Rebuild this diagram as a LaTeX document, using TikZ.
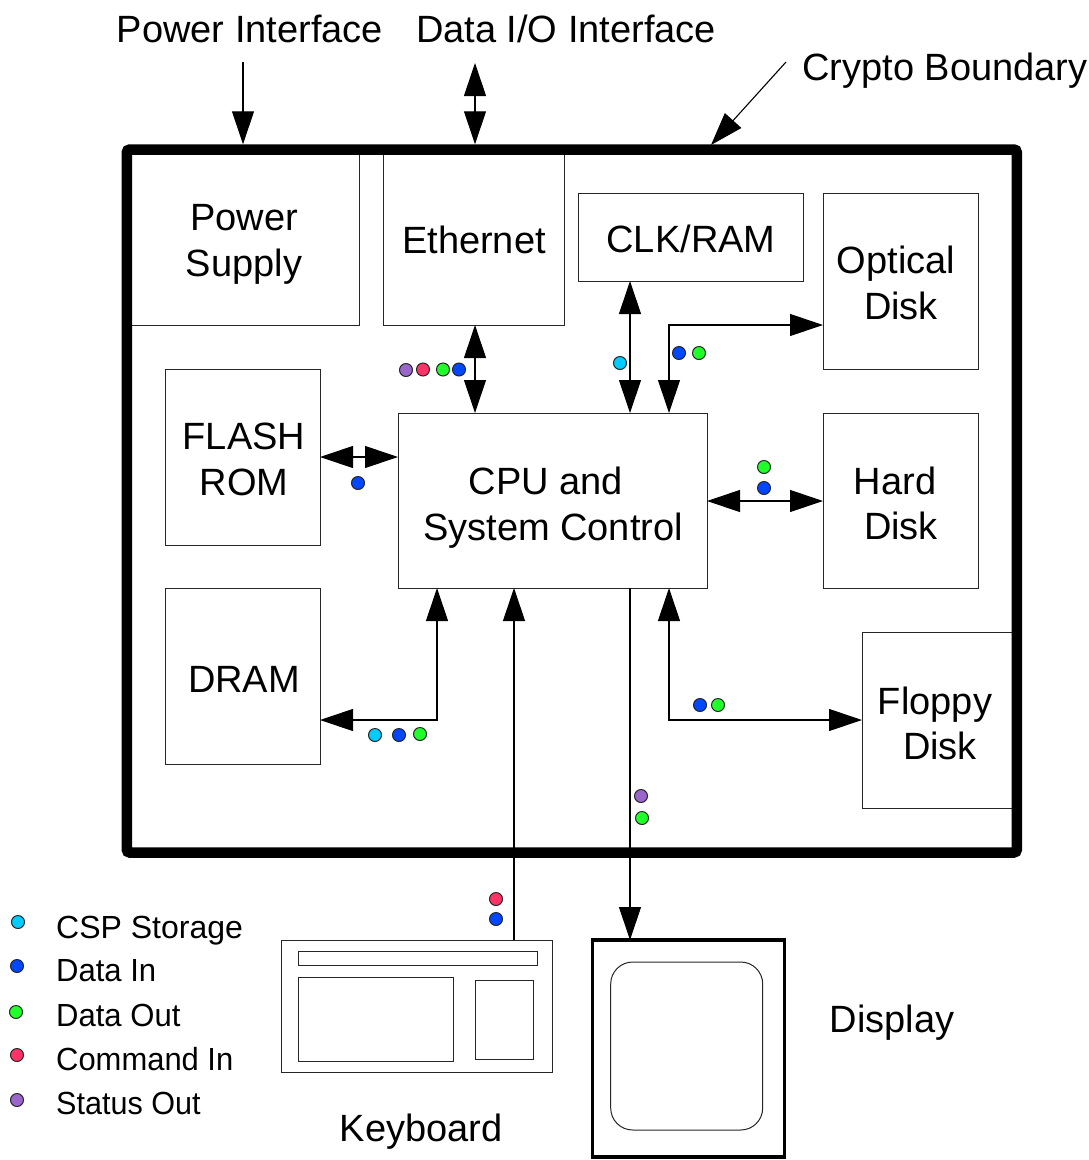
\documentclass[tikz,border=0pt]{standalone}
\usepackage{fontspec}
\setmainfont{Liberation Sans}
\usetikzlibrary{arrows.meta}
\definecolor{dcyan}{HTML}{00CCFF}
\definecolor{dblue}{HTML}{0047FF}
\definecolor{dgreen}{HTML}{1FFF2A}
\definecolor{dpink}{HTML}{FF3366}
\definecolor{dpurple}{HTML}{9966CC}
\tikzset{
  box/.style={draw=black!85,line width=1pt,inner sep=0pt,outer sep=0pt,fill=white},
  boundary/.style={draw=black,line width=10.5pt,rounded corners=3pt,inner sep=0pt},
  big/.style={inner sep=0pt,align=center,font=\fontsize{38}{46}\selectfont},
  legendtext/.style={inner sep=0pt,anchor=west,font=\fontsize{32}{38}\selectfont},
  dot/.style={circle,draw=black!85,line width=1pt,minimum size=13pt,inner sep=0pt},
  conn/.style={line width=1.1pt,draw=black},
  one/.style={conn,-{Triangle[length=33pt,width=22pt]}},
  two/.style={conn,{Triangle[length=33pt,width=22pt]}-{Triangle[length=33pt,width=22pt]}},
}
\begin{document}
\begin{tikzpicture}[x=1pt,y=-1pt]
\useasboundingbox (0,0) rectangle (1089,1160);
% boxes inside boundary
\node[box,minimum width=232pt,minimum height=175pt] (power) at (243,237.5) {};
\node[box,minimum width=181pt,minimum height=175pt] (eth) at (473.5,237.5) {};
\node[box,minimum width=225pt,minimum height=88pt] (clk) at (690.5,237) {};
\node[box,minimum width=155pt,minimum height=176pt] (opt) at (900.5,281) {};
\node[box,minimum width=155pt,minimum height=176pt] (flash) at (242.5,457) {};
\node[box,minimum width=309pt,minimum height=175pt] (cpu) at (552.5,500.5) {};
\node[box,minimum width=155pt,minimum height=175pt] (hard) at (900.5,500.5) {};
\node[box,minimum width=155pt,minimum height=176pt] (dram) at (242.5,676) {};
\node[box,minimum width=154pt,minimum height=176pt] (floppy) at (939,720) {};
% boundary
\node[boundary,minimum width=890pt,minimum height=703pt] (bnd) at (571.8,501) {};
% peripherals
\node[box,minimum width=271pt,minimum height=132pt] (kbd) at (416.5,1006) {};
\node[box,minimum width=239pt,minimum height=14pt] (kbd1) at (417.5,958) {};
\node[box,minimum width=155pt,minimum height=84pt] (kbd2) at (375.5,1019) {};
\node[box,minimum width=58pt,minimum height=79pt] (kbd3) at (504,1019.5) {};
\node[box,draw=black,line width=3.5pt,minimum width=192pt,minimum height=217pt] (disp) at (688.3,1048.5) {};
\node[box,rounded corners=22pt,minimum width=152pt,minimum height=168pt] (disp1) at (686.7,1046) {};
% texts
\node[big] (t1) at (250,29) {Power Interface};
\node[big] (t2) at (566,29) {Data I/O Interface};
\node[big] (t3) at (945,71) {Crypto Boundary};
\node[big] (t4) at (244,244) {Power\\Supply};
\node[big] (t5) at (474,240) {Ethernet};
\node[big] (t6) at (691,239) {CLK/RAM};
\node[big] (t7) at (896,264) {Optical};
\node[big] (t7b) at (901,306) {Disk};
\node[big] (t8) at (244,459) {FLASH\\ROM};
\node[big] (t9) at (546,481) {CPU and};
\node[big] (t9b) at (553,531) {System Control};
\node[big] (t10) at (895,481) {Hard};
\node[big] (t10b) at (901,526) {Disk};
\node[big] (t11) at (244,679) {DRAM};
\node[big] (t12) at (935,705) {Floppy};
\node[big] (t12b) at (940,746) {Disk};
\node[big] (t13) at (421,1132) {Keyboard};
\node[big] (t14) at (892,1023) {Display};
\node[legendtext] (l1) at (56,931) {CSP Storage};
\node[legendtext] (l2) at (56,971) {\scalebox{.97}[1]{Data In}};
\node[legendtext] (l3) at (56,1015) {\scalebox{.97}[1]{Data Out}};
\node[legendtext] (l4) at (56,1059) {\scalebox{.967}[1]{Command In}};
\node[legendtext] (l5) at (56,1103) {\scalebox{.955}[1]{Status Out}};
% connector guides
\coordinate (cp) at (243,62);
\coordinate (cd) at (475,63);
\coordinate (cc) at (786,62);
\coordinate (cb) at (711,145);
\coordinate (xclk) at (630,0);
\coordinate (xopt) at (669,325);
\coordinate (yflash) at (0,457);
\coordinate (yhard) at (0,501);
\coordinate (xdram) at (437,720);
\coordinate (xkbd) at (514,0);
\coordinate (xflop) at (669,720);
% connectors
\draw[one] (cp) -- (bnd.north -| cp);
\draw[two] (cd) -- (bnd.north -| cd);
\draw[one] (cc) -- (cb);
\draw[two] (eth.south -| cd) -- (cpu.north -| cd);
\draw[two] (clk.south -| xclk) -- (cpu.north -| xclk);
\draw[two] (cpu.north -| xopt) -- (xopt) -- (opt.west |- xopt);
\draw[two] (flash.east |- yflash) -- (cpu.west |- yflash);
\draw[two] (cpu.east |- yhard) -- (hard.west |- yhard);
\draw[two] (dram.east |- xdram) -- (xdram) -- (cpu.south -| xdram);
\draw[one] (kbd.north -| xkbd) -- (cpu.south -| xkbd);
\draw[one] (cpu.south -| xclk) -- (disp.north -| xclk);
\draw[two] (cpu.south -| xflop) -- (xflop) -- (floppy.west |- xflop);
% dots
\foreach \n/\c/\x/\y in {
 a/dpurple/406/370,b/dpink/423/369.5,c/dgreen/443/369.5,d/dblue/459/369.5,
 e/dcyan/620/363,f/dblue/679/353,g/dgreen/699/353,
 h/dgreen/764/467,i/dblue/764/488,j/dblue/358/483,
 k/dcyan/375/735,m/dblue/399/735,n/dgreen/420/734,
 o/dblue/700/705,p/dgreen/718/705,
 q/dpurple/641/796,r/dgreen/642/818,
 s/dpink/496/899,t/dblue/496/919,
 u/dcyan/18/922,v/dblue/17/966,w/dgreen/16/1012,z/dpink/17/1055,y/dpurple/17/1100}
 \node[dot,fill=\c] (dot\n) at (\x,\y) {};
\end{tikzpicture}
\end{document}
